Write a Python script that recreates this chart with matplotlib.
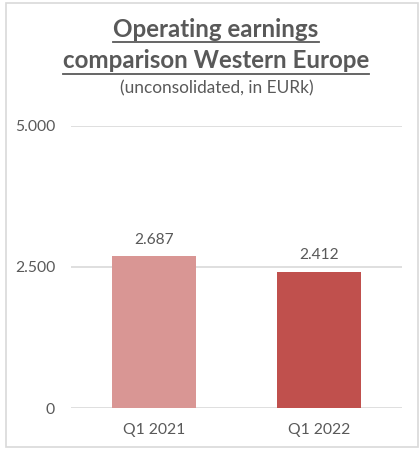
import matplotlib
matplotlib.use("Agg")
import matplotlib.pyplot as plt
from matplotlib.lines import Line2D
from matplotlib.patches import Rectangle

categories = ["Q1 2021", "Q1 2022"]
values = [2687, 2412]
value_labels = ["2.687", "2.412"]
yticks = [0, 2500, 5000]
ytick_labels = ["0", "2.500", "5.000"]
colors = ["#D99694", "#C0504D"]

TXT = "#595959"
GRID = "#D9D9D9"
FONT = ["Lato", "DejaVu Sans"]

fig = plt.figure(figsize=(4.19, 4.5), dpi=100)
fig.patch.set_facecolor("white")

# outer frame
fig.add_artist(Rectangle((6/419, 3/450), (418-6)/419, (447-3)/450,
                         transform=fig.transFigure, fill=False,
                         edgecolor=GRID, linewidth=1.2))

ax = fig.add_axes([71/419, 1-408/450, 331/419, 282/450])
ax.bar(range(len(categories)), values, width=0.51, color=colors, zorder=3)
ax.set_xlim(-0.5, len(categories)-0.5)
ax.set_ylim(0, 5000)
ax.set_yticks(yticks)
ax.set_yticklabels(ytick_labels)
ax.set_xticks(range(len(categories)))
ax.set_xticklabels(categories)
for s in ax.spines.values():
    s.set_visible(False)
ax.tick_params(axis="both", length=0, colors=TXT, labelsize=11.3)
ax.tick_params(axis="y", pad=11.5)
ax.tick_params(axis="x", pad=11)
for lab in ax.get_xticklabels() + ax.get_yticklabels():
    lab.set_family(FONT)
ax.grid(axis="y", color=GRID, linewidth=1.2, zorder=0)
ax.set_axisbelow(True)

for i, (v, l) in enumerate(zip(values, value_labels)):
    ax.annotate(l, (i, v), xytext=(0, 7), textcoords="offset points",
                ha="center", va="bottom", color=TXT, fontsize=11.2, family=FONT)

titles = [("Operating earnings", 29.5), ("comparison Western Europe", 61)]
fig.canvas.draw()
r = fig.canvas.get_renderer()
for t, yc in titles:
    txt = fig.text(216/419, 1-yc/450, t, ha="center", va="center", fontsize=17.4,
                   fontweight="bold", color=TXT, family=FONT)
    bb = txt.get_window_extent(renderer=r)
    yline = (450 - (yc + 12.5)) / 450
    fig.add_artist(Line2D([bb.x0/419, bb.x1/419], [yline, yline],
                          transform=fig.transFigure, color=TXT, linewidth=1.3))
fig.text(217/419, 1-88/450, "(unconsolidated, in EURk)", ha="center", va="center",
         fontsize=12.4, color=TXT, family=FONT)

fig.savefig("out.png", dpi=100)
